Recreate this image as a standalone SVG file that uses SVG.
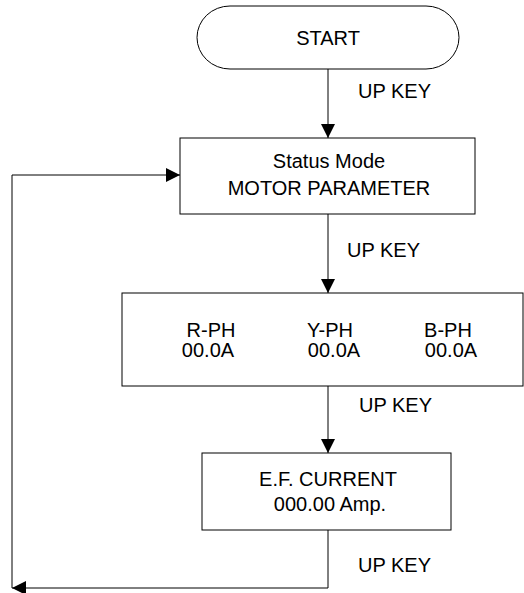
<svg xmlns="http://www.w3.org/2000/svg" width="524" height="593" viewBox="0 0 524 593">
<style>
.box{fill:#fff;stroke:#000;stroke-width:1}
.ln{fill:none;stroke:#000;stroke-width:1}
text{font-family:"Liberation Sans",Arial,sans-serif;font-size:20px;fill:#000}
.c{text-anchor:middle}
</style>
<defs>
<marker id="ah" viewBox="0 0 10 10" refX="10" refY="5" markerWidth="14" markerHeight="14" markerUnits="userSpaceOnUse" orient="auto">
<path d="M0,0 L10,5 L0,10 Z" fill="#000"/>
</marker>
</defs>
<rect width="524" height="593" fill="#fff"/>
<g id="connectors">
<line class="ln" x1="328" y1="69" x2="328" y2="138" marker-end="url(#ah)"/>
<line class="ln" x1="328" y1="214" x2="328" y2="293" marker-end="url(#ah)"/>
<line class="ln" x1="328" y1="386" x2="328" y2="453" marker-end="url(#ah)"/>
<polyline class="ln" points="328,530 328,588 12,588" marker-end="url(#ah)"/>
<polyline class="ln" points="12,588 12,175 180,175" marker-end="url(#ah)"/>
<text x="358" y="98">UP KEY</text>
<text x="347" y="257">UP KEY</text>
<text x="359" y="412">UP KEY</text>
<text x="358" y="572">UP KEY</text>
</g>
<g id="start">
<rect class="box" x="197" y="6" width="262" height="63" rx="33" ry="31.5"/>
<text class="c" x="328" y="45">START</text>
</g>
<g id="status">
<rect class="box" x="180" y="138" width="295" height="76"/>
<text class="c" x="329" y="168">Status Mode</text>
<text class="c" x="329" y="195">MOTOR PARAMETER</text>
</g>
<g id="phases">
<rect class="box" x="122" y="293" width="401" height="93"/>
<text class="c" x="211" y="337">R-PH</text>
<text class="c" x="208" y="357">00.0A</text>
<text class="c" x="330" y="337">Y-PH</text>
<text class="c" x="334" y="357">00.0A</text>
<text class="c" x="448" y="337">B-PH</text>
<text class="c" x="451" y="357">00.0A</text>
</g>
<g id="efcurrent">
<rect class="box" x="202" y="453" width="249" height="77"/>
<text class="c" x="328" y="486">E.F. CURRENT</text>
<text class="c" x="330" y="511">000.00 Amp.</text>
</g>
</svg>
